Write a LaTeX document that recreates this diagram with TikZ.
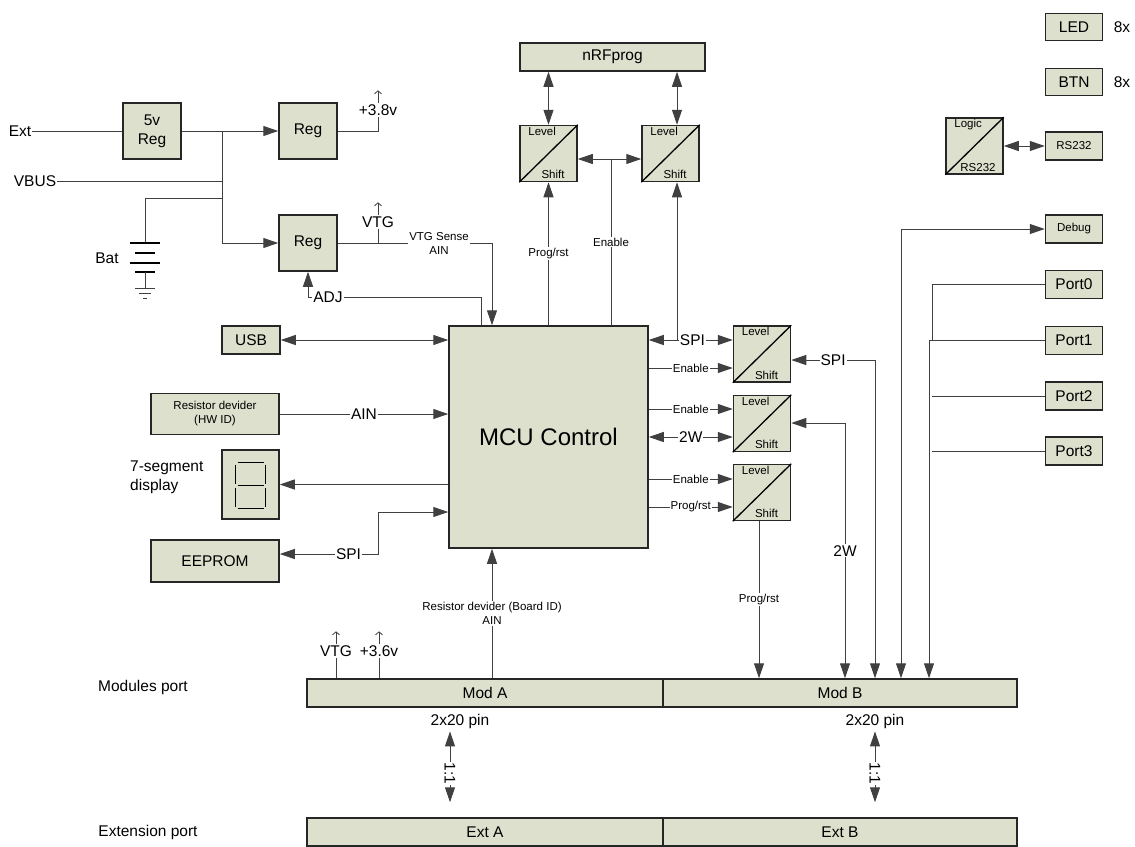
\documentclass[tikz,border=0pt]{standalone}
\usepackage{fontspec}
\setmainfont{Liberation Sans}
\usetikzlibrary{arrows.meta,positioning,calc}
\definecolor{boxfill}{RGB}{221,224,204}
\tikzset{
  blk/.style={draw=black!85, line width=1.5pt, fill=boxfill, inner sep=1pt},
  lvl/.style={blk, minimum width=57pt, minimum height=56pt},
  wire/.style={draw=black!75, line width=1pt},
  tag/.style={fill=white, inner sep=1pt},
  sml/.style={font=\fontsize{11.5}{14}\selectfont},
  sup/.style={wire, line width=0.8pt, -{Straight Barb[length=3pt,width=7pt]}},
}
\begin{document}
\begin{tikzpicture}[x=1pt, y=-1pt, >={Triangle[length=15pt,width=10pt]},
  every node/.style={font=\fontsize{15.5}{19}\selectfont, inner sep=1pt}]
\useasboundingbox (0,0) rectangle (1135,846);

% power supply
\node[blk, minimum width=58pt, minimum height=56pt, align=center] (reg5) at (152,131) {5v\\Reg};
\node[blk, minimum width=58pt, minimum height=56pt] (rega) at (308,131) {Reg};
\node[blk, minimum width=58pt, minimum height=56pt] (regb) at (308,243) {Reg};
\node (extin) at (20,131) {Ext};
\node (vbus) at (35,181) {VBUS};
\node (bat) at (107,258) {Bat};
\coordinate (ja) at (222,131);
\coordinate (jc) at (222,198);
\coordinate (batp) at (145,243);

\draw[wire] (extin.east) -- (reg5.west);
\draw[wire, ->] (reg5.east) -- (rega.west);
\draw[wire, ->] (ja) |- (regb.west);
\draw[wire] (vbus.east) -- (vbus.east -| ja);
\draw[wire] (jc) -| (batp);
\foreach \dy/\w in {0/15, 10/10, 20/15, 29/10}
  \draw[line width=1.4pt] ($(batp)+(-\w,\dy)$) -- ++(2*\w,0);
\draw[wire] ($(batp)+(0,29)$) -- ++(0,16);
\foreach \dy/\w in {45/10, 50/6, 55/2}
  \draw[wire] ($(batp)+(-\w,\dy)$) -- ++(2*\w,0);

\node (v38) at (378,110) {+3.8v};
\draw[wire] (rega.east) -| (v38.south);
\draw[sup] (v38.north) -- ++(0,-13);
\node (vtg) at (378,222) {VTG};
\draw[wire] (vtg.south) -- (vtg.south |- regb.east);
\draw[sup] (vtg.north) -- ++(0,-13);

% MCU
\node[blk, minimum width=199pt, minimum height=222pt, font=\fontsize{24}{28}\selectfont] (mcu) at (548.5,437) {MCU Control};

\node[tag, sml, align=center] (vsense) at (439,243) {VTG Sense\\AIN};
\draw[wire] (regb.east) -- (vsense.west |- regb.east);
\draw[wire, ->] (vsense.east |- regb.east) -| (492,0 |- mcu.north);
\node (adj) at (328,297) {ADJ};
\draw[wire] (481,0 |- mcu.north) |- (adj.east);
\draw[wire, ->] (adj.west) -| (regb.south);

% left side
\node[blk, minimum width=58pt, minimum height=28pt] (usb) at (251,340) {USB};
\node[blk, sml, minimum width=128pt, minimum height=41pt, align=center] (hwid) at (215,414) {Resistor devider\\(HW ID)};
\node[blk, minimum width=57pt, minimum height=69pt] (seg) at (250.5,484.5) {};
\foreach \ax/\ay/\bx/\by in {-13/-22/13/-22, -13/1/13/1, -13/24/13/24,
    -15/-20/-15/-1, 15/-20/15/-1, -15/3/-15/22, 15/3/15/22}
  \draw[line width=1.2pt] ($(seg)+(\ax,\ay)$) -- ($(seg)+(\bx,\by)$);
\node[align=left, anchor=west] (seglbl) at (129,477) {7-segment\\display};
\node[blk, minimum width=128pt, minimum height=42pt] (eeprom) at (215,561) {EEPROM};

\draw[wire, <->] (usb.east) -- (usb.east -| mcu.west);
\draw[wire, ->] (hwid.east) -- node[tag]{AIN} (hwid.east -| mcu.west);
\draw[wire, ->] (seg.east -| mcu.west) -- (seg.east);
\draw[wire, <->] (mcu.west |- 0,512) -| (378,554) -- node[tag, pos=0.3]{SPI} (eeprom.east |- 0,554);

% programmer and level shifters
\node[blk, minimum width=185pt, minimum height=28pt] (nrf) at (612.5,57) {nRFprog};
\foreach \n/\x/\y in {lsa/548.5/153.5, lsb/670.5/153.5, lsc/762/354, lsd/762/423.5, lse/762/492.5} {
  \node[lvl] (\n) at (\x,\y) {};
  \draw[line width=1.3pt] (\n.south west) -- (\n.north east);
  \node[sml, anchor=north west] at ([xshift=8pt,yshift=-1pt]\n.north west) {Level};
  \node[sml, anchor=south east] at ([xshift=-12pt,yshift=2pt]\n.south east) {Shift};
}
\draw[wire, <->] (nrf.south -| lsa) -- (lsa.north);
\draw[wire, <->] (677,0 |- nrf.south) -- (677,0 |- lsb.north);
\coordinate (en) at (611,159);
\draw[wire, <->] (lsa.east |- en) -- (lsb.west |- en);
\draw[wire] (611,0 |- mcu.north) -- node[tag, sml]{Enable} (en);
\draw[wire, ->] (lsa.south |- mcu.north) -- node[tag, sml]{Prog/rst} (lsa.south);

\coordinate (spij) at (677,340);
\draw[wire, <->] (mcu.east |- spij) -- node[tag, pos=0.52]{SPI} (lsc.west |- spij);
\draw[wire, ->] (spij) -- (spij |- lsb.south);
\draw[wire, ->] (mcu.east |- 0,368) -- node[tag, sml]{Enable} (lsc.west |- 0,368);
\draw[wire, ->] (mcu.east |- 0,409) -- node[tag, sml]{Enable} (lsd.west |- 0,409);
\draw[wire, <->] (mcu.east |- 0,437) -- node[tag]{2W} (lsd.west |- 0,437);
\draw[wire, ->] (mcu.east |- 0,479) -- node[tag, sml]{Enable} (lse.west |- 0,479);
\draw[wire, ->] (mcu.east |- 0,507) -- node[tag, sml]{Prog/rst} (lse.west |- 0,507);

% right side
\node[blk, minimum width=57pt, minimum height=27pt] (led) at (1074,27) {LED};
\node (ledn) at (1122,27) {8x};
\node[blk, minimum width=57pt, minimum height=27pt] (btn) at (1074,82) {BTN};
\node (btnn) at (1122,82) {8x};
\node[lvl] (logic) at (974.5,146) {};
\draw[line width=1.3pt] (logic.south west) -- (logic.north east);
\node[sml, anchor=north west] at ([xshift=8pt,yshift=-1pt]logic.north west) {Logic};
\node[sml, anchor=south east] at ([xshift=-7pt,yshift=2pt]logic.south east) {RS232};
\node[blk, sml, minimum width=57pt, minimum height=28pt] (rs) at (1074,146) {RS232};
\draw[wire, <->] (logic.east) -- (rs.west);
\node[blk, sml, minimum width=57pt, minimum height=28pt] (debug) at (1074,229) {Debug};
\foreach \i/\y in {0/284.5, 1/340.5, 2/396, 3/451}
  \node[blk, minimum width=57pt, minimum height=28pt] (port\i) at (1074,\y) {Port\i};

% module and extension ports
\node[blk, minimum width=356pt, minimum height=28pt] (moda) at (485,693) {Mod A};
\node[blk, minimum width=354pt, minimum height=28pt] (modb) at (840,693) {Mod B};
\node[blk, minimum width=356pt, minimum height=28pt] (exta) at (485,832) {Ext A};
\node[blk, minimum width=354pt, minimum height=28pt] (extb) at (840,832) {Ext B};
\node (modlbl) at (143,687) {Modules port};
\node (extlbl) at (148,832) {Extension port};
\node (pina) at (460,721) {2x20 pin};
\node (pinb) at (875,721) {2x20 pin};
\draw[wire, <->, shorten <=2pt, shorten >=15pt] (450,0 |- pina.south) -- node[tag, rotate=-90]{1:1} (450,0 |- exta.north);
\draw[wire, <->, shorten <=2pt, shorten >=15pt] (875,0 |- pinb.south) -- node[tag, rotate=-90]{1:1} (875,0 |- extb.north);

\node (vtga) at (336,651) {VTG};
\node (v36) at (379,651) {+3.6v};
\foreach \n in {vtga, v36} {
  \draw[wire] (\n.south) -- (\n.south |- moda.north);
  \draw[sup] (\n.north) -- ++(0,-13);
}
\draw[wire, ->] (492,0 |- moda.north) -- node[tag, sml, align=center]{Resistor devider (Board ID)\\AIN} (492,0 |- mcu.south);

\draw[wire, ->] (759,0 |- lse.south) -- node[tag, sml]{Prog/rst} (759,0 |- modb.north);
\draw[wire, <->] (lsd.east |- 0,423) -| node[tag, pos=0.75]{2W} (845,0 |- modb.north);
\draw[wire, <->] (lsc.east |- 0,360) -- node[tag]{SPI} (875,360) -- (875,0 |- modb.north);
\draw[wire, <->] (debug.west) -| (901,0 |- modb.north);
\draw[wire] (port0.west) -| (932,0 |- port1.west);
\draw[wire, ->] (port1.west) -| (929,0 |- modb.north);
\draw[wire] (port2.west) -- (932,0 |- port2.west);
\draw[wire] (port3.west) -- (932,0 |- port3.west);
\end{tikzpicture}
\end{document}
